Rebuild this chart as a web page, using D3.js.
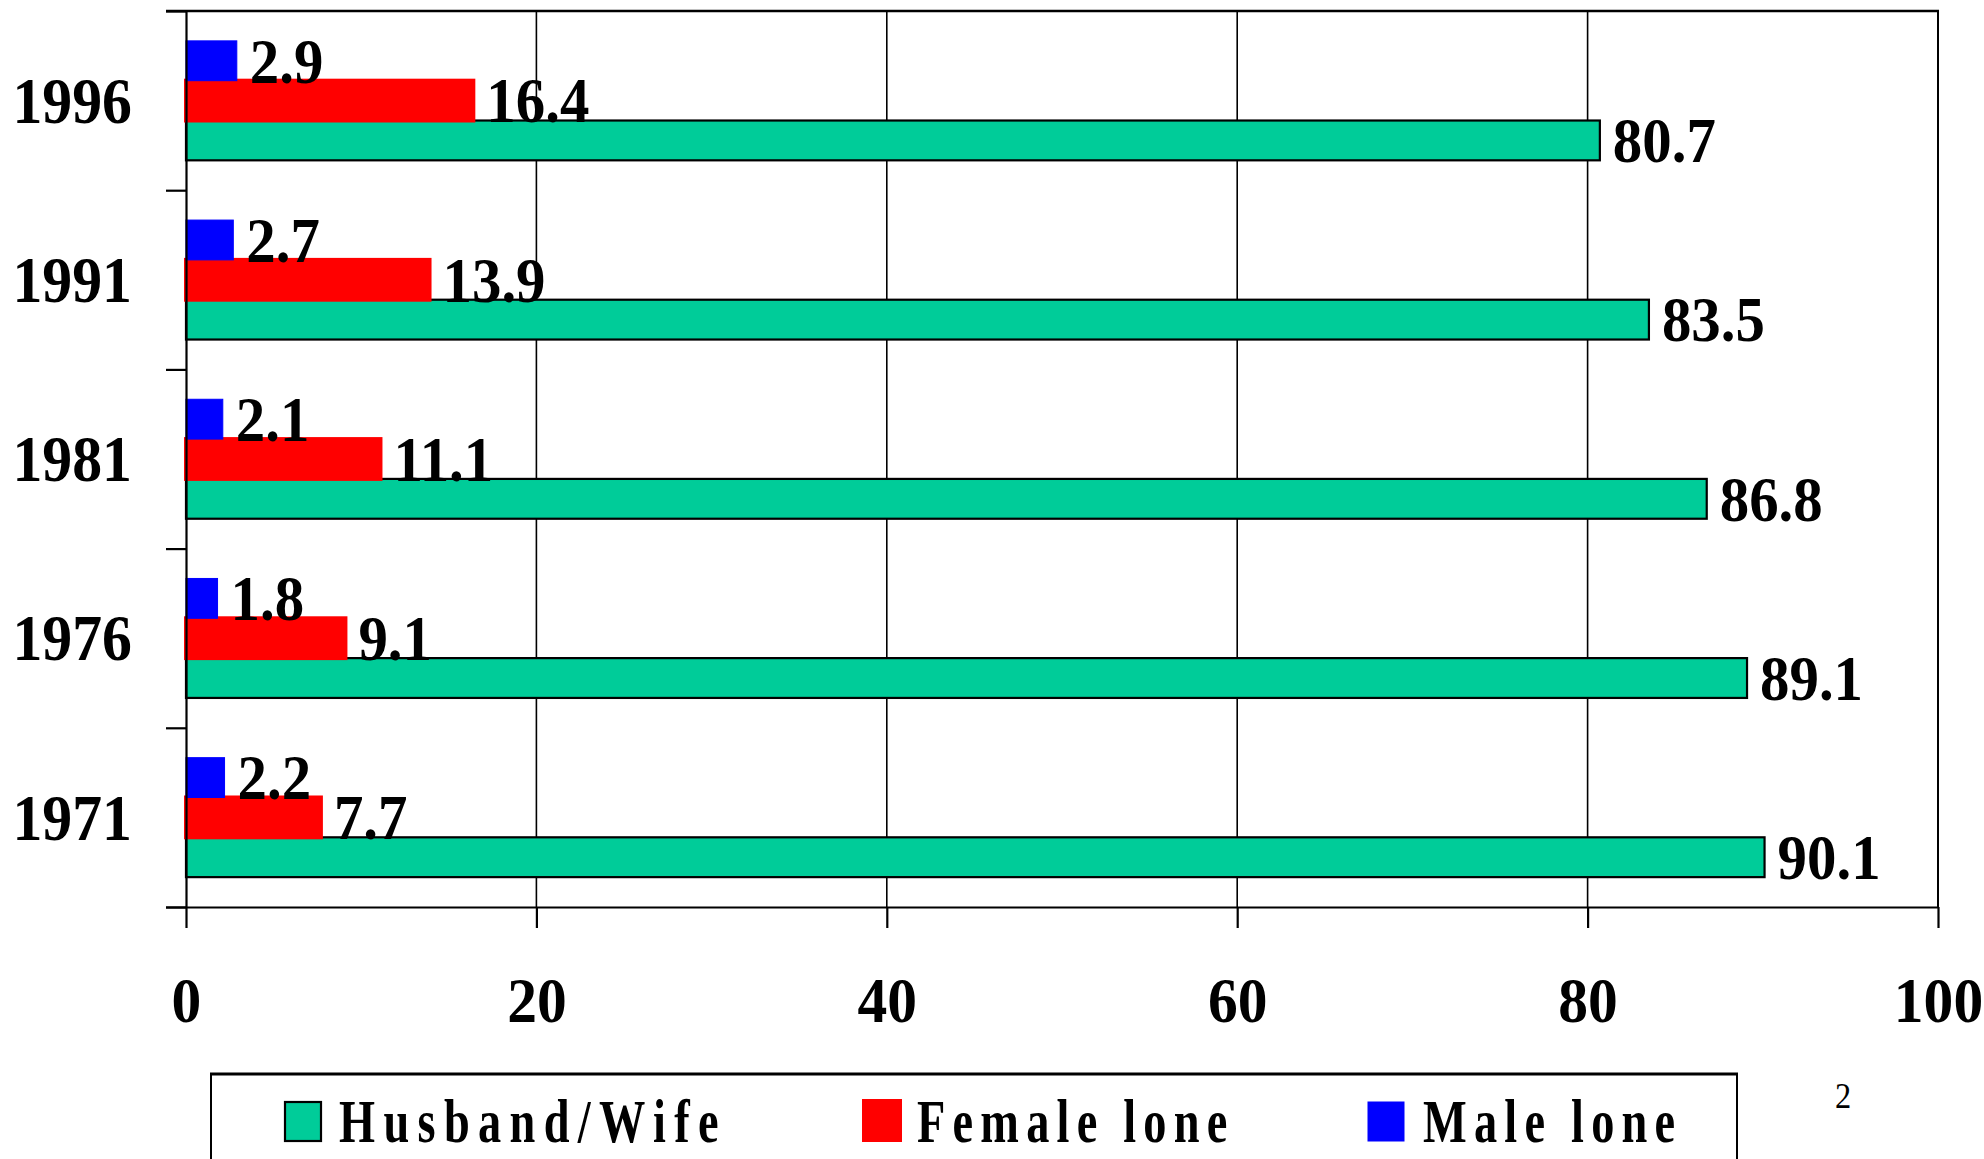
<!DOCTYPE html>
<html><head><meta charset="utf-8">
<script src="https://cdn.jsdelivr.net/npm/d3@7"></script>
<style>body{margin:0;background:#fff;overflow:hidden}</style>
</head><body>
<svg id="c" width="1984" height="1159"></svg>
<script>
// ---- data ----
const years = ["1996", "1991", "1981", "1976", "1971"];
const seriesNames = ["Husband/Wife", "Female lone", "Male lone"];
const husbandWife = [80.7, 83.5, 86.8, 89.1, 90.1];
const femaleLone = [16.4, 13.9, 11.1, 9.1, 7.7];
const maleLone = [2.9, 2.7, 2.1, 1.8, 2.2];
const xTicks = [0, 20, 40, 60, 80, 100];
const seriesColors = ["#00CC99", "#FF0000", "#0000FF"];
const footnote = "2";

// ---- layout ----
const FONT = "'Liberation Serif','Times New Roman',serif";
const pL = 186, pR = 1938, pT = 11, pB = 907;
const svg = d3.select("#c");
svg.append("rect").attr("width", 1984).attr("height", 1159).attr("fill", "#fff");

const x = d3.scaleLinear().domain([0, 100]).range([pL, pR]);
const y = d3.scaleBand().domain(years).range([pT, pB]);
const ySub = d3.scaleBand().domain(["Male lone", "Female lone", "Husband/Wife"])
  .range([0, y.bandwidth()]).paddingInner(0).paddingOuter(0.75);
const color = d3.scaleOrdinal().domain(seriesNames).range(seriesColors);

const seriesValues = {
  "Husband/Wife": husbandWife,
  "Female lone": femaleLone,
  "Male lone": maleLone
};

// gridlines
svg.append("g").selectAll("line").data(xTicks.filter(d => d > 0 && d < 100)).join("line")
  .attr("x1", d => x(d)).attr("x2", d => x(d)).attr("y1", pT).attr("y2", pB)
  .attr("stroke", "#000").attr("stroke-width", 1.6);

// plot frame top / right
svg.append("line").attr("x1", pL - 20).attr("x2", pR + 1).attr("y1", pT).attr("y2", pT)
  .attr("stroke", "#000").attr("stroke-width", 2.5);
svg.append("line").attr("x1", pR).attr("x2", pR).attr("y1", pT).attr("y2", pB)
  .attr("stroke", "#000").attr("stroke-width", 2);

// bars
seriesNames.forEach(s => {
  const vals = seriesValues[s];
  const g = svg.append("g");
  g.selectAll("rect").data(years.map((yr, i) => ({ yr, v: vals[i] }))).join("rect")
    .attr("x", x(0))
    .attr("y", d => y(d.yr) + ySub(s))
    .attr("width", d => x(d.v) - x(0))
    .attr("height", ySub.bandwidth())
    .attr("fill", color(s))
    .attr("stroke", s === "Husband/Wife" ? "#000" : color(s))
    .attr("stroke-width", s === "Husband/Wife" ? 2.2 : (s === "Female lone" ? 4 : 1));
});

// value labels
seriesNames.forEach(s => {
  const vals = seriesValues[s];
  svg.append("g").selectAll("text").data(years.map((yr, i) => ({ yr, v: vals[i] }))).join("text")
    .attr("transform", d => `translate(${x(d.v) + 13},${y(d.yr) + ySub(s) + ySub.bandwidth() / 2}) scale(0.92,1)`)
    .attr("dy", "0.34em")
    .attr("font-family", FONT).attr("font-weight", "bold").attr("font-size", 64)
    .attr("fill", "#000")
    .text(d => d.v.toFixed(1));
});

// left axis: boundary ticks
const yEdge = d3.scaleLinear().domain([0, years.length]).range([pT, pB]);
const leftTicks = svg.append("g").attr("transform", `translate(${pL},0)`)
  .call(d3.axisLeft(yEdge).tickValues(d3.range(0, years.length + 1)).tickSize(20).tickSizeOuter(0).tickFormat(""));
leftTicks.selectAll("path,line").attr("stroke", "#000").attr("stroke-width", 2.2);

// left axis labels
const yLab = svg.append("g").attr("transform", `translate(${pL},0)`)
  .call(d3.axisLeft(y).tickSize(0).tickPadding(0));
yLab.select(".domain").remove();
yLab.selectAll("text")
  .attr("x", 0).attr("dy", "0.34em")
  .attr("transform", "translate(-54,0) scale(0.92,1)")
  .attr("font-family", FONT).attr("font-weight", "bold").attr("font-size", 65)
  .attr("fill", "#000").attr("text-anchor", "end");

// bottom axis
const xAx = svg.append("g").attr("transform", `translate(0,${pB})`)
  .call(d3.axisBottom(x).tickValues(xTicks).tickSize(21).tickSizeOuter(0).tickFormat(d3.format("d")));
xAx.selectAll("path,line").attr("stroke", "#000").attr("stroke-width", 2.2);
xAx.select(".domain").attr("d", `M${pL - 20},0.5H${pR + 1}`);
xAx.selectAll("text")
  .attr("y", 115).attr("dy", 0)
  .attr("transform", "scale(0.93,1)")
  .attr("font-family", FONT).attr("font-weight", "bold").attr("font-size", 64)
  .attr("fill", "#000");

// legend
const legend = svg.append("g");
legend.append("rect").attr("x", 211).attr("y", 1074).attr("width", 1526).attr("height", 200)
  .attr("fill", "none").attr("stroke", "#000").attr("stroke-width", 2);
legend.append("line").attr("x1", 210).attr("x2", 1738).attr("y1", 1074).attr("y2", 1074)
  .attr("stroke", "#000").attr("stroke-width", 3);
const legendX = [285, 861, 1368];
const legendTextX = [339, 917, 1423];
seriesNames.forEach((s, i) => {
  const isHW = s === "Husband/Wife";
  const isF = s === "Female lone";
  legend.append("rect")
    .attr("x", isF ? legendX[i] + 2 : legendX[i]).attr("y", isF ? 1100 : 1102)
    .attr("width", isF ? 38 : 36).attr("height", isF ? 41 : 39)
    .attr("fill", color(s))
    .attr("stroke", isHW ? "#000" : color(s)).attr("stroke-width", isHW ? 2.2 : (isF ? 2 : 1));
  legend.append("text")
    .attr("transform", `translate(${legendTextX[i]},1142) scale(0.76,1)`)
    .attr("font-family", FONT).attr("font-weight", "bold").attr("font-size", 61)
    .attr("letter-spacing", isHW ? 11 : 9.5)
    .attr("fill", "#000")
    .text(s);
});

// footnote
svg.append("text")
  .attr("transform", "translate(1843,1108) scale(0.9,1)")
  .attr("text-anchor", "middle")
  .attr("font-family", FONT).attr("font-size", 36).attr("fill", "#000")
  .text(footnote);
</script>
</body></html>
